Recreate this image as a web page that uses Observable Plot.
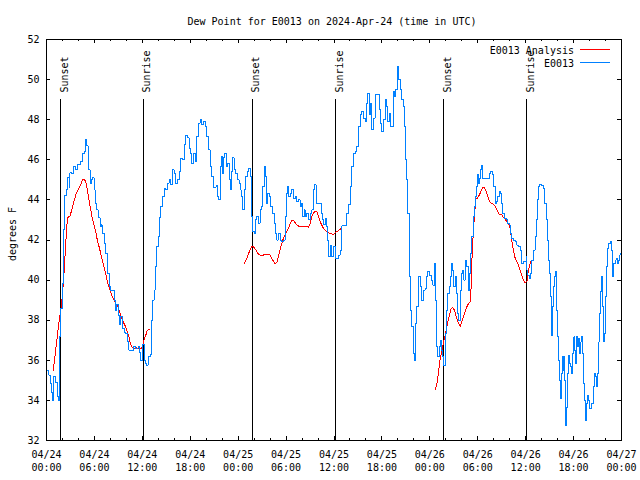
<!DOCTYPE html>
<html>
<head>
<meta charset="utf-8">
<script src="https://cdn.jsdelivr.net/npm/d3@7"></script>
<script src="https://cdn.jsdelivr.net/npm/@observablehq/plot@0.6"></script>
<style>
  html, body { margin: 0; padding: 0; background: #fff; }
  svg { display: block; }
</style>
</head>
<body>
<div id="chart"></div>
<script>
// ---------- data (hours since 2024-04-24 00:00 UTC, dew point in °F) ----------
const titleText = "Dew Point for E0013 on 2024-Apr-24 (time in UTC)";
const yLabelText = "degrees F";
const seriesNames = ["E0013 Analysis", "E0013"];
const seriesColors = ["#ff0000", "#0080ff"];

const e0013 = [[0.00,35.47],[0.31,35.25],[0.53,34.85],[0.63,34.4],[0.73,34.0],[0.85,35.2],[1.15,34.9],[1.35,34.2],[1.48,34.0],[1.59,35.2],[1.69,37.2],[1.78,38.6],[1.98,39.85],[2.10,42.5],[2.28,44.2],[2.53,44.5],[2.61,45.1],[2.82,44.6],[2.94,45.35],[3.11,45.3],[3.36,45.67],[3.66,45.5],[3.86,45.75],[4.20,45.9],[4.53,46.33],[4.79,46.4],[4.91,47.03],[5.04,46.7],[5.20,46.0],[5.32,45.5],[5.45,44.83],[5.61,45.0],[5.74,45.1],[5.95,44.5],[6.08,43.83],[6.29,43.5],[6.45,43.1],[6.70,42.67],[6.86,42.75],[6.99,42.33],[7.20,41.83],[7.42,41.33],[7.62,40.33],[7.83,39.67],[8.04,39.5],[8.46,39.0],[8.58,38.5],[8.79,38.8],[8.96,38.25],[9.08,37.8],[9.29,38.2],[9.50,37.6],[9.71,37.4],[9.92,37.35],[10.12,36.92],[10.33,36.5],[10.62,36.47],[10.87,36.67],[11.17,36.6],[11.46,36.67],[11.65,36.4],[11.80,36.0],[12.00,36.8],[12.21,36.0],[12.43,35.83],[12.55,35.75],[12.71,36.17],[12.97,36.3],[13.13,38.0],[13.30,39.0],[13.47,39.5],[13.59,40.67],[13.80,41.67],[13.97,42.17],[14.09,43.1],[14.31,43.67],[14.51,44.17],[14.72,44.58],[14.93,44.5],[15.13,44.83],[15.35,45.0],[15.56,44.75],[15.76,45.5],[15.97,45.3],[16.18,44.8],[16.38,45.0],[16.60,45.4],[16.81,46.08],[17.01,46.0],[17.22,46.75],[17.44,47.2],[17.64,47.1],[17.85,46.58],[18.06,46.3],[18.19,45.83],[18.39,46.33],[18.60,45.9],[18.81,47.17],[19.02,47.83],[19.23,48.0],[19.44,47.75],[19.64,47.92],[19.85,47.67],[20.07,47.17],[20.27,46.5],[20.48,45.67],[20.69,45.17],[20.89,44.63],[21.23,44.7],[21.45,44.17],[21.52,44.0],[21.73,45.67],[21.86,46.17],[21.98,45.33],[22.15,46.1],[22.32,46.33],[22.49,45.67],[22.65,45.83],[22.90,45.0],[23.07,44.5],[23.20,45.4],[23.32,46.1],[23.49,45.5],[23.70,45.33],[23.90,45.0],[24.11,44.83],[24.24,44.5],[24.36,44.17],[24.53,43.5],[24.74,44.5],[24.95,45.17],[25.15,45.4],[25.33,45.58],[25.49,45.17],[25.61,44.17],[25.70,43.17],[25.83,42.42],[25.99,42.33],[26.16,43.0],[26.33,43.17],[26.53,42.83],[26.74,43.5],[26.96,43.67],[27.08,44.67],[27.25,45.67],[27.41,45.17],[27.58,43.83],[27.71,44.33],[27.87,44.17],[28.08,43.67],[28.28,43.33],[28.50,42.83],[28.66,42.33],[28.84,42.0],[29.04,42.33],[29.25,42.0],[29.46,41.92],[29.66,42.0],[29.88,43.17],[30.00,44.33],[30.13,44.67],[30.29,44.17],[30.50,44.33],[30.72,44.5],[30.92,44.08],[31.13,44.17],[31.34,43.92],[31.54,44.0],[31.75,43.67],[31.97,43.83],[32.09,43.17],[32.26,43.5],[32.38,43.17],[32.59,43.33],[32.79,43.0],[33.01,43.33],[33.22,43.5],[33.42,44.5],[33.60,44.75],[33.76,44.17],[33.85,43.83],[34.26,43.83],[34.39,43.33],[34.55,43.0],[34.67,42.75],[34.89,43.08],[35.01,42.67],[35.17,42.0],[35.30,41.17],[35.51,41.75],[35.73,41.17],[35.93,41.67],[36.14,41.08],[36.35,41.08],[36.55,41.25],[36.77,41.5],[36.98,42.7],[37.39,42.7],[37.61,43.33],[37.81,43.75],[38.02,44.67],[38.23,45.67],[38.43,46.33],[38.65,46.42],[38.86,46.67],[39.06,47.67],[39.27,48.25],[39.48,48.42],[39.68,48.08],[39.90,47.92],[40.11,48.83],[40.23,49.33],[40.40,48.25],[40.52,48.83],[40.74,47.5],[40.94,48.08],[41.15,49.25],[41.49,49.25],[41.65,48.5],[41.81,47.83],[41.99,47.42],[42.19,48.0],[42.40,49.0],[42.62,48.67],[42.74,47.92],[42.90,48.33],[43.03,47.67],[43.24,47.67],[43.44,49.42],[43.57,49.17],[43.74,49.5],[43.91,50.67],[44.07,50.0],[44.28,49.5],[44.49,49.0],[44.70,48.67],[44.82,47.67],[44.91,46.0],[45.12,45.0],[45.25,43.33],[45.41,40.17],[45.53,38.5],[45.75,37.67],[45.95,36.33],[46.04,36.0],[46.16,37.83],[46.37,38.67],[46.57,40.17],[46.79,39.67],[47.00,39.0],[47.20,39.5],[47.41,39.58],[47.63,40.17],[47.75,40.42],[47.95,40.25],[48.16,40.0],[48.38,39.75],[48.58,40.83],[48.67,39.0],[48.79,37.67],[48.88,36.67],[49.00,36.17],[49.17,36.67],[49.33,37.0],[49.50,36.5],[49.63,36.17],[49.76,35.75],[49.92,37.33],[50.13,38.5],[50.26,39.33],[50.42,39.67],[50.54,40.17],[50.71,40.83],[50.83,40.5],[50.96,39.67],[51.17,40.17],[51.30,39.33],[51.46,38.33],[51.58,38.0],[51.80,39.5],[51.92,40.33],[52.09,40.5],[52.26,40.0],[52.43,41.0],[52.64,40.67],[52.84,39.5],[52.97,40.33],[53.14,41.33],[53.27,42.17],[53.46,43.17],[53.59,43.67],[53.68,44.17],[53.80,44.67],[53.93,45.25],[54.09,44.83],[54.22,45.08],[54.30,45.5],[54.51,45.7],[54.64,45.08],[55.22,45.08],[55.47,45.33],[55.64,45.42],[55.81,45.25],[55.97,44.67],[56.18,43.83],[56.31,43.92],[56.47,44.17],[56.68,44.42],[56.81,44.33],[56.93,43.83],[57.15,43.33],[57.31,43.08],[57.56,43.0],[57.77,42.83],[57.94,42.75],[58.06,42.33],[58.27,42.08],[58.47,42.0],[58.69,41.92],[58.90,41.75],[59.10,41.7],[59.31,41.5],[59.52,40.83],[59.73,40.92],[59.94,40.92],[60.07,41.17],[60.15,40.5],[60.28,40.25],[60.44,40.08],[60.57,40.33],[60.78,41.0],[60.98,41.5],[61.19,42.17],[61.32,43.0],[61.48,44.0],[61.61,44.67],[61.73,44.75],[62.03,44.7],[62.23,44.58],[62.41,43.83],[62.57,43.0],[62.73,42.0],[62.86,41.0],[62.98,40.33],[63.07,39.17],[63.20,37.42],[63.28,37.25],[63.36,38.67],[63.48,39.67],[63.61,40.17],[63.73,40.42],[63.82,39.67],[63.91,38.5],[64.03,37.17],[64.11,36.0],[64.23,35.0],[64.32,34.08],[64.45,35.33],[64.57,36.17],[64.66,35.5],[64.73,36.17],[64.86,35.0],[64.95,33.67],[65.04,32.75],[65.11,33.67],[65.24,35.33],[65.33,36.17],[65.41,36.25],[65.49,35.83],[65.61,35.67],[65.74,35.33],[65.86,36.33],[65.95,36.75],[66.04,37.17],[66.16,36.5],[66.29,35.83],[66.41,37.17],[66.54,36.67],[66.67,37.08],[66.79,36.33],[66.92,36.92],[67.04,37.17],[67.12,36.33],[67.24,34.83],[67.37,34.0],[67.49,33.0],[67.62,33.83],[67.74,34.25],[67.87,34.0],[67.99,33.58],[68.12,33.58],[68.29,33.83],[68.49,34.67],[68.67,35.33],[68.79,35.17],[68.92,34.67],[69.04,35.33],[69.17,36.92],[69.29,38.33],[69.42,39.42],[69.54,40.17],[69.67,38.67],[69.75,36.92],[69.87,37.33],[70.00,39.17],[70.13,40.67],[70.25,41.58],[70.42,41.83],[70.59,41.92],[70.71,41.5],[70.84,40.67],[70.92,40.17],[71.05,40.83],[71.21,41.0],[71.34,41.08],[71.46,40.83],[71.59,41.0],[71.74,41.25],[71.84,41.33]];

const analysisNight1 = [[0.85,35.5],[1.15,36.5],[1.35,37.2],[1.57,37.92],[1.78,38.5],[1.98,39.17],[2.19,40.33],[2.41,41.83],[2.53,42.67],[2.69,43.13],[2.94,43.2],[3.23,43.58],[3.44,43.92],[3.66,44.25],[3.86,44.42],[4.07,44.58],[4.28,44.75],[4.48,45.0],[4.70,45.03],[4.91,44.92],[5.11,44.5],[5.32,44.0],[5.54,43.5],[5.74,43.08],[5.95,42.75],[6.16,42.42],[6.36,42.0],[6.58,41.67],[6.79,41.33],[6.99,41.0],[7.20,40.67],[7.42,40.33],[7.62,39.92],[7.83,39.67],[8.04,39.42],[8.24,39.17],[8.46,39.0],[8.67,38.83],[8.87,38.75],[9.08,38.5],[9.29,38.25],[9.50,38.0],[9.71,37.83],[9.92,37.67],[10.12,37.42],[10.33,37.17],[10.46,36.92],[10.62,36.7],[10.87,36.58],[11.17,36.63],[11.46,36.58],[11.80,36.58],[12.00,36.67],[12.21,37.0],[12.43,37.25],[12.63,37.5],[12.84,37.53]];
const analysisNight2 = [[24.78,40.83],[25.08,41.08],[25.40,41.42],[25.70,41.7],[25.91,41.67],[26.21,41.5],[26.53,41.3],[26.74,41.25],[27.16,41.25],[27.58,41.3],[28.00,41.25],[28.33,41.0],[28.62,40.83],[28.84,40.87],[29.04,41.17],[29.25,41.5],[29.46,41.83],[29.66,42.08],[29.88,42.25],[30.09,42.42],[30.29,42.58],[30.50,42.8],[30.72,43.0],[30.92,42.97],[31.13,42.87],[31.34,42.75],[31.54,42.7],[31.75,42.67],[32.17,42.67],[32.59,42.67],[32.79,42.63],[33.01,42.83],[33.22,43.17],[33.42,43.33],[33.63,43.45],[33.85,43.42],[34.05,43.17],[34.26,42.92],[34.47,42.75],[34.67,42.58],[34.89,42.5],[35.10,42.42],[35.30,42.37],[35.51,42.33],[35.73,42.3],[35.93,42.28],[36.14,42.37],[36.35,42.42],[36.55,42.47],[36.77,42.53],[37.02,42.6]];
const analysisNight3 = [[48.70,34.53],[48.88,34.83],[49.08,35.33],[49.20,35.85],[49.42,36.33],[49.63,36.75],[49.83,37.08],[50.04,37.5],[50.26,37.92],[50.46,38.25],[50.67,38.58],[50.88,38.63],[51.08,38.5],[51.30,38.17],[51.51,37.92],[51.80,37.7],[52.01,37.92],[52.21,38.17],[52.42,38.42],[52.64,38.67],[52.84,38.83],[53.05,38.92],[53.18,39.67],[53.27,41.0],[53.39,42.0],[53.55,43.0],[53.76,44.08],[53.96,44.08],[54.21,44.25],[54.43,44.47],[54.64,44.63],[54.84,44.63],[55.05,44.42],[55.26,44.17],[55.47,43.92],[55.68,43.83],[55.97,43.78],[56.18,43.67],[56.39,43.5],[56.60,43.33],[56.81,43.25],[57.02,43.25],[57.22,43.13],[57.43,43.03],[57.64,42.92],[57.85,42.83],[58.06,42.58],[58.19,42.17],[58.31,41.83],[58.47,41.5],[58.69,41.08],[58.90,40.92],[59.10,40.75],[59.31,40.5],[59.52,40.25],[59.73,40.0],[59.94,39.87],[60.15,39.92],[60.28,40.33],[60.44,40.67],[60.66,40.92]];

const sunHours  = [1.75, 12.13, 25.78, 36.18, 49.76, 60.10];
const sunLabels = ["Sunset", "Sunrise", "Sunset", "Sunrise", "Sunset", "Sunrise"];

const xTickHours  = [0, 6, 12, 18, 24, 30, 36, 42, 48, 54, 60, 66, 72];
const xTickLabels = ["04/24\n00:00","04/24\n06:00","04/24\n12:00","04/24\n18:00","04/25\n00:00","04/25\n06:00","04/25\n12:00","04/25\n18:00","04/26\n00:00","04/26\n06:00","04/26\n12:00","04/26\n18:00","04/27\n00:00"];
const xMinorStepHours = 2;
const yTicks = [32, 34, 36, 38, 40, 42, 44, 46, 48, 50, 52];

// ---------- build ----------
const start = Date.UTC(2024, 3, 24);
const toDate = h => new Date(start + h * 3600e3);
const obs = e0013.map(([h, v]) => ({t: toDate(h), v}));
const ana = [analysisNight1, analysisNight2, analysisNight3]
  .flatMap((seg, k) => seg.map(([h, v]) => ({t: toDate(h), v, seg: k})));
const sun = sunHours.map((h, i) => ({t: toDate(h), label: sunLabels[i]}));
const majorTicks = xTickHours.map(toDate);
const labelOf = new Map(xTickHours.map((h, i) => [+toDate(h), xTickLabels[i]]));
const minorTicks = d3.range(0, 72 + 1e-9, xMinorStepHours).map(toDate);

const W = 640, H = 480, mL = 46, mR = 19, mT = 39, mB = 40;
const frameH = H - mT - mB, frameW = W - mL - mR;
const major = 4, minor = 2;
const crisp = "crispEdges";

const chart = Plot.plot({
  width: W, height: H,
  marginLeft: mL, marginRight: mR, marginTop: mT, marginBottom: mB,
  style: {fontFamily: "'DejaVu Sans Mono', monospace", fontSize: "10px", background: "#fff", color: "#000", overflow: "visible"},
  x: {type: "utc", domain: [toDate(0), toDate(72)]},
  y: {domain: [32, 52]},
  marks: [
    Plot.axisX({ticks: majorTicks, tickFormat: d => labelOf.get(+d), tickSize: 0, tickPadding: 8, lineHeight: 1.3, label: null}),
    Plot.axisY({ticks: yTicks, tickSize: 0, tickPadding: 7, label: null}),
    Plot.tickX(minorTicks, {x: d => d, insetTop: frameH - minor, stroke: "#000", shapeRendering: crisp}),
    Plot.tickX(minorTicks, {x: d => d, insetBottom: frameH - minor, stroke: "#000", shapeRendering: crisp}),
    Plot.tickX(majorTicks, {x: d => d, insetTop: frameH - major, stroke: "#000", shapeRendering: crisp}),
    Plot.tickX(majorTicks, {x: d => d, insetBottom: frameH - major, stroke: "#000", shapeRendering: crisp}),
    Plot.tickY(yTicks, {y: d => d, insetRight: frameW - major, stroke: "#000", shapeRendering: crisp}),
    Plot.tickY(yTicks, {y: d => d, insetLeft: frameW - major, stroke: "#000", shapeRendering: crisp}),
    Plot.ruleX(sun, {x: "t", insetTop: 60, stroke: "#000", strokeWidth: 1, shapeRendering: crisp}),
    Plot.text(sun, {x: "t", text: "label", frameAnchor: "top", dy: 53, rotate: -90, textAnchor: "start", fill: "#000"}),
    Plot.line(ana, {x: "t", y: "v", z: "seg", stroke: seriesColors[0], strokeWidth: 1, shapeRendering: crisp}),
    Plot.line(obs, {x: "t", y: "v", stroke: seriesColors[1], strokeWidth: 1, curve: "step-after", shapeRendering: crisp}),
    Plot.frame({stroke: "#000", shapeRendering: crisp})
  ]
});

const svg = d3.select(chart);
svg.append("text").attr("x", 332).attr("y", 25).attr("text-anchor", "middle")
  .attr("fill", "#000").text(titleText);
svg.append("text").attr("transform", "translate(15.5,234) rotate(-90)")
  .attr("text-anchor", "middle").attr("fill", "#000").text(yLabelText);
seriesNames.forEach((name, i) => {
  const y = 50 + i * 13;
  svg.append("text").attr("x", 574).attr("y", y).attr("dy", "0.35em")
    .attr("text-anchor", "end").attr("fill", "#000").text(name);
  svg.append("line").attr("x1", 580).attr("x2", 610).attr("y1", y - 0.5).attr("y2", y - 0.5)
    .attr("stroke", seriesColors[i]).attr("stroke-width", 1).attr("shape-rendering", crisp);
});

document.getElementById("chart").appendChild(chart);
</script>
</body>
</html>
